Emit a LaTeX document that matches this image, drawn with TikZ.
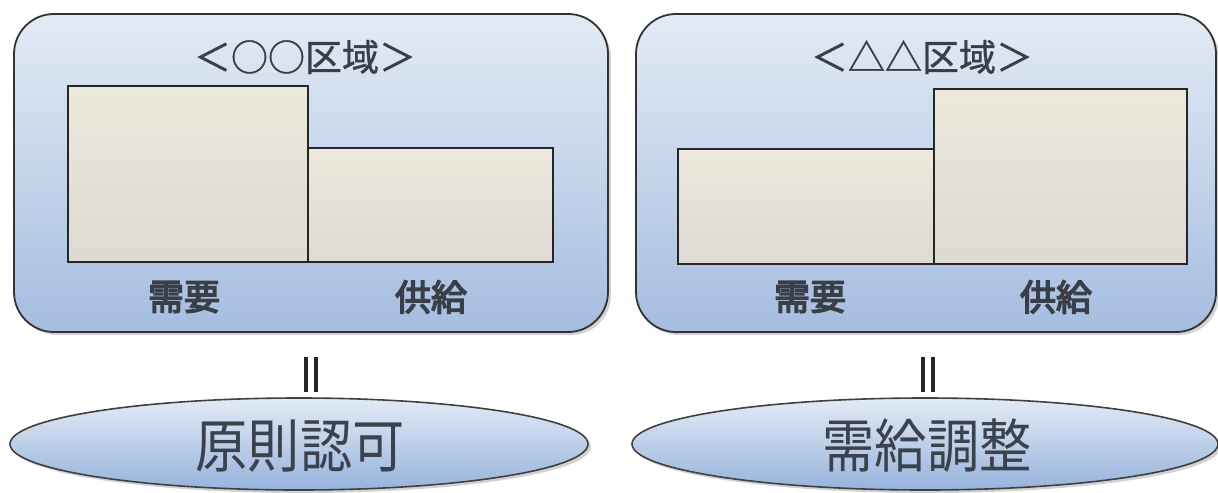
\documentclass[tikz,border=0pt]{standalone}
\usepackage{fontspec}
\usepackage{graphicx}
\newfontfamily\jp{Noto Sans CJK JP}
\newfontfamily\jpm{Noto Sans CJK JP}[FakeBold=1]
\newfontfamily\jpb{Noto Sans CJK JP}[FakeBold=4]
\usetikzlibrary{shapes.geometric,shadows}
\definecolor{pantop}{HTML}{E3EBF5}
\definecolor{panbot}{HTML}{A5BDE0}
\definecolor{bartop}{HTML}{ECE9DC}
\definecolor{barbot}{HTML}{DCDAD2}
\definecolor{elltop}{HTML}{E2EBF6}
\definecolor{ellbot}{HTML}{97B3DC}
\definecolor{txt}{HTML}{3A3F47}
\definecolor{etxt}{HTML}{3C424B}
\begin{document}
\begin{tikzpicture}[x=0.5pt,y=-0.5pt,
  panel/.style={draw=black!80,line width=0.9pt,rounded corners=20pt,top color=pantop,bottom color=panbot,
     drop shadow={shadow xshift=1.5pt,shadow yshift=-1.5pt,opacity=0.35}},
  bar/.style={draw=black!85,line width=0.8pt,top color=bartop,bottom color=barbot,inner sep=0pt,anchor=north west},
  ttl/.style={font=\jpm\fontsize{18.5pt}{18.5pt}\selectfont,text=txt},
  lbl/.style={font=\jpb\fontsize{18pt}{18pt}\selectfont,text=txt},
  oval/.style={ellipse,draw=black!75,line width=0.8pt,top color=elltop,bottom color=ellbot,inner sep=0pt,
     drop shadow={shadow xshift=1.5pt,shadow yshift=-1.5pt,opacity=0.35}},
  otxt/.style={font=\jp\fontsize{29pt}{29pt}\selectfont,text=etxt},
  eqline/.style={line width=2pt,black!85}]
\useasboundingbox[fill=white] (0,0) rectangle (1218,492);
% panels
\node[panel,minimum width=297pt,minimum height=159pt] (lp) at (311,173) {};
\node[panel,minimum width=290pt,minimum height=159pt] (rp) at (926,173) {};
% titles
\node[ttl] (lt) at (305,57) {＜○○区域＞};
\node[ttl] (rt) at (922,57) {＜△△区域＞};
% bars
\node[bar,minimum width=120pt,minimum height=88pt] (ld) at (67,85) {};
\node[bar,minimum width=122.5pt,minimum height=57pt] (ls) at (307,147) {};
\node[bar,minimum width=128pt,minimum height=57.5pt] (rd) at (677,148) {};
\node[bar,minimum width=126.5pt,minimum height=87.5pt] (rs) at (933,88) {};
% labels
\node[lbl] (ldl) at (184,297) {需要};
\node[lbl] (lsl) at (431,297) {供給};
\node[lbl] (rdl) at (810,297) {需要};
\node[lbl] (rsl) at (1056,297) {供給};
% ellipses
\node[oval,minimum width=289pt,minimum height=46pt] (le) at (299,444) {};
\node[oval,minimum width=293pt,minimum height=46pt] (re) at (925,444) {};
\node[otxt] (let) at (300,446) {\scalebox{0.9}[1]{原則認可}};
\node[otxt] (ret) at (927,446) {\scalebox{0.9}[1]{需給調整}};
% equals signs
\coordinate (la1) at (306,357); \coordinate (la2) at (306,392);
\coordinate (lb1) at (316,357); \coordinate (lb2) at (316,392);
\coordinate (ra1) at (923,357); \coordinate (ra2) at (923,392);
\coordinate (rb1) at (933,357); \coordinate (rb2) at (933,392);
\draw[eqline] (la1) -- (la2);
\draw[eqline] (lb1) -- (lb2);
\draw[eqline] (ra1) -- (ra2);
\draw[eqline] (rb1) -- (rb2);
\end{tikzpicture}
\end{document}
